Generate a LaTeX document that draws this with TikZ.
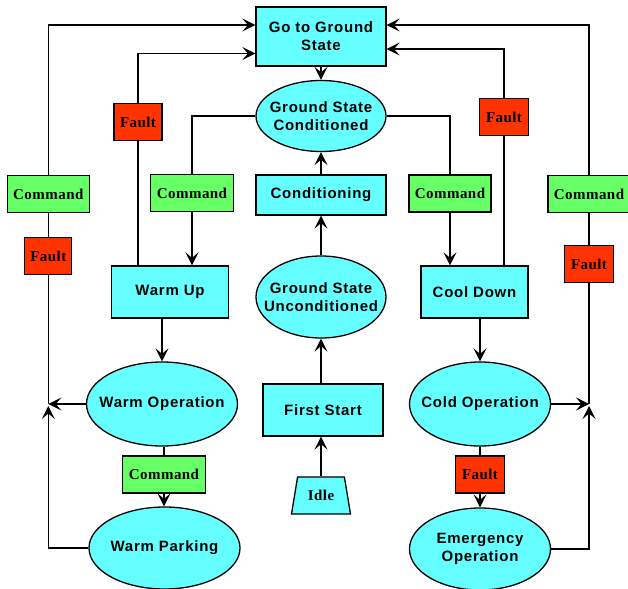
\documentclass[tikz,border=0pt]{standalone}
\usepackage{fontspec}
\setmainfont{Liberation Serif}
\newfontfamily\lsans[LetterSpace=5]{Liberation Sans}
\newfontfamily\lserif[LetterSpace=3]{Liberation Serif}
\usetikzlibrary{arrows.meta,shapes.geometric}
\definecolor{cyanfill}{RGB}{102,255,255}
\definecolor{greenfill}{RGB}{102,255,102}
\definecolor{faultred}{RGB}{255,51,0}
\begin{document}
\begin{tikzpicture}[x=1pt,y=-1pt,
  line width=1.3pt,
  base/.style={draw=black, inner sep=0pt, align=center, line width=1.3pt},
  st/.style={base, fill=cyanfill, font=\lsans\bfseries\fontsize{15}{18}\selectfont},
  rbox/.style={st, rectangle},
  ebox/.style={st, ellipse, inner xsep=-40pt, inner ysep=-20pt},
  cmd/.style={base, rectangle, fill=greenfill, minimum width=82pt, minimum height=37pt, font=\lserif\bfseries\fontsize{15}{18}\selectfont},
  flt/.style={base, rectangle, fill=faultred, minimum width=48pt, minimum height=37pt, font=\lserif\bfseries\fontsize{15}{18}\selectfont},
  arr/.style={-{Stealth[length=13pt,width=13pt,inset=5.5pt]}}
]
\useasboundingbox (0,0) rectangle (628,588);
% states
\node[rbox, minimum width=130pt, minimum height=59pt] (gtgs) at (321,36.5) {Go to Ground\\State};
\node[ebox, minimum width=130pt, minimum height=71pt] (gsc) at (321,116) {Ground State\\Conditioned};
\node[rbox, minimum width=130pt, minimum height=40pt] (cond) at (321,195) {Conditioning};
\node[ebox, minimum width=130pt, minimum height=82pt] (gsu) at (321,297) {Ground State\\Unconditioned};
\node[rbox, minimum width=120pt, minimum height=52pt] (fs) at (323,410) {First Start};
\node[base, trapezium, trapezium stretches=true, trapezium left angle=72, trapezium right angle=72,
      fill=cyanfill, minimum width=59pt, minimum height=37pt,
      font=\lserif\bfseries\fontsize{15}{18}\selectfont] (idle) at (321,495.5) {\raisebox{-4pt}{Idle}};
\node[rbox, minimum width=117pt, minimum height=52pt] (wu) at (170,292) {Warm Up};
\node[ebox, minimum width=151pt, minimum height=84pt] (wo) at (162,404) {Warm Operation};
\node[cmd, minimum width=83pt] (cmdwp) at (164,474.5) {Command};
\node[ebox, minimum width=151pt, minimum height=82pt] (wp) at (164.5,548) {Warm Parking};
\node[rbox, minimum width=107pt, minimum height=52pt] (cd) at (474.5,292) {Cool Down};
\node[ebox, minimum width=141pt, minimum height=84pt] (co) at (480,404) {Cold Operation};
\node[flt, minimum width=49pt] (fco) at (480,474.5) {Fault};
\node[ebox, minimum width=141pt, minimum height=82pt] (eo) at (480,549) {Emergency\\Operation};
% command / fault boxes
\node[cmd] (cmdL) at (48.3,194) {Command};
\node[flt, minimum width=47pt] (faultL) at (48.3,256) {Fault};
\node[flt] (faultWU) at (138,122) {Fault};
\node[cmd, minimum width=83pt] (cmdWU) at (192,193) {Command};
\node[cmd] (cmdCD) at (450,193.5) {Command};
\node[flt, minimum width=49pt] (faultCD) at (504,117) {Fault};
\node[cmd] (cmdR) at (589,194) {Command};
\node[flt, minimum width=49pt] (faultR) at (589,264) {Fault};
% junctions
\coordinate (jL) at (faultL.south |- wo.west);
\coordinate (jR) at (faultR.south |- co.east);
% outer left
\draw[arr] (cmdL.north) |- ([yshift=11.5pt]gtgs.west);
\draw (cmdL.south) -- (faultL.north);
\draw (faultL.south) -- (jL);
\draw[arr] (wo.west) -- (jL);
\draw[arr] (wp.west) -| ([yshift=-2pt]jL);
% outer right
\draw[arr] (cmdR.north) |- ([yshift=11.5pt]gtgs.east);
\draw (cmdR.south) -- (faultR.north);
\draw (faultR.south) -- (jR);
\draw[arr] (co.east) -- (jR);
\draw[arr] (eo.east) -| ([yshift=-2pt]jR);
% inner left
\draw[arr] (faultWU.north) |- ([yshift=-17pt]gtgs.west);
\draw (faultWU.south) -- (faultWU.south |- wu.north);
\draw (cmdWU.north) |- (gsc.west);
\draw[arr] (cmdWU.south) -- (cmdWU.south |- wu.north);
% inner right
\draw[arr] (faultCD.north) |- ([yshift=-12.5pt]gtgs.east);
\draw (faultCD.south) -- (faultCD.south |- cd.north);
\draw (gsc.east) -| (cmdCD.north);
\draw[arr] (cmdCD.south) -- (cmdCD.south |- cd.north);
% centre column
\draw[arr] (gtgs.south) -- (gsc.north);
\draw[arr] (cond.north) -- (gsc.south);
\draw[arr] (gsu.north) -- (cond.south);
\draw[arr] (gsu.south |- fs.north) -- (gsu.south);
\draw[arr] (idle.north) -- (idle.north |- fs.south);
% warm branch
\draw[arr] (wo.north |- wu.south) -- (wo.north);
\draw (cmdwp.north |- wo.south) -- (cmdwp.north);
\draw[arr] (cmdwp.south) -- (cmdwp.south |- wp.north);
% cold branch
\draw[arr] (co.north |- cd.south) -- (co.north);
\draw (co.south) -- (fco.north);
\draw[arr] (fco.south) -- (fco.south |- eo.north);
\end{tikzpicture}
\end{document}
